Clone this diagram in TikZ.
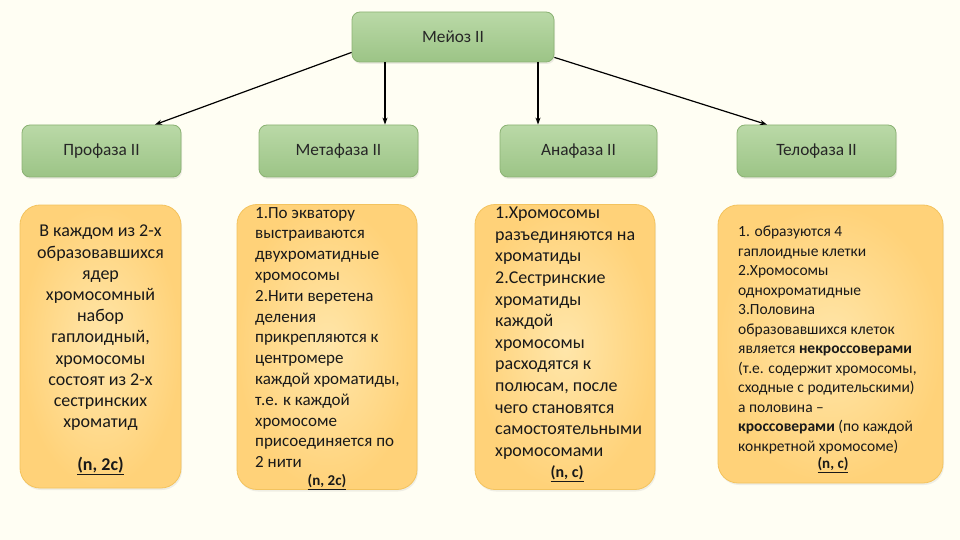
\documentclass[tikz,border=0pt]{standalone}
\usepackage{fontspec}
\setmainfont{Carlito}
\usetikzlibrary{arrows.meta,shadows}
\definecolor{bgc}{HTML}{FFFEF3}
\definecolor{gtop}{HTML}{BAD9A7}
\definecolor{gbot}{HTML}{9CC486}
\definecolor{gline}{HTML}{8BB273}
\definecolor{otop}{HTML}{FFE6AA}
\definecolor{obot}{HTML}{FFD279}
\definecolor{oline}{HTML}{F3C35E}
\tikzset{
  greenbox/.style={draw=gline, line width=0.8pt, rounded corners=8pt, top color=gtop, bottom color=gbot, font=\fontsize{17.3}{19}\selectfont, text=black!85, drop shadow={opacity=0.15, shadow xshift=1pt, shadow yshift=-2pt}},
  orangebox/.style={draw=oline, line width=0.8pt, rounded corners=20pt, inner color=otop, outer color=obot, drop shadow={opacity=0.12, shadow xshift=1pt, shadow yshift=-2pt}},
  bodytext/.style={inner sep=0pt, text=black!90},
  link/.style={-{Stealth[length=7pt,width=5pt]}, line width=1.2pt, black},
}
\begin{document}
\begin{tikzpicture}[x=1pt,y=-1pt]
\fill[bgc] (0,0) rectangle (960,540);
\useasboundingbox (0,0) rectangle (960,540);

\node[greenbox, minimum width=202pt, minimum height=50pt] (meioz) at (453,37) {Мейоз II};
\node[greenbox, minimum width=159pt, minimum height=52pt] (pro) at (101.5,151) {Профаза II};
\node[greenbox, minimum width=159pt, minimum height=52pt] (meta) at (338.5,151) {Метафаза II};
\node[greenbox, minimum width=157pt, minimum height=52pt] (ana) at (578.5,151) {Анафаза II};
\node[greenbox, minimum width=159pt, minimum height=52pt] (telo) at (816.5,151) {Телофаза II};

\node[orangebox, minimum width=161pt, minimum height=283pt] (probox) at (100.5,346.5) {};
\node[orangebox, minimum width=180pt, minimum height=285pt] (metabox) at (327,347) {};
\node[orangebox, minimum width=180pt, minimum height=285pt] (anabox) at (565,347) {};
\node[orangebox, minimum width=225pt, minimum height=278pt] (telobox) at (830.5,344) {};

\draw[link] ([yshift=10pt]meioz.south west) -- ([xshift=53.5pt]pro.north);
\draw[link] ([xshift=-68pt]meioz.south) -- ([xshift=-68pt]meioz.south |- meta.north);
\draw[link] ([xshift=85pt]meioz.south) -- ([xshift=85pt]meioz.south |- ana.north);
\draw[link] ([yshift=5pt]meioz.south east) -- ([xshift=-49.5pt]telo.north);

\node[bodytext, anchor=north, align=center, font=\fontsize{18}{21.2}\selectfont] (protext) at (100.5,225) {В каждом из 2-х\\образовавшихся\\ядер\\хромосомный\\набор\\гаплоидный,\\хромосомы\\состоят из 2-х\\сестринских\\хроматид\\[21.2pt]\underline{\textbf{(n, 2c)}}};

\node[bodytext, anchor=north west, align=left, font=\fontsize{17}{20.8}\selectfont] (metatext) at (255,207) {1.По экватору\\выстраиваются\\двухроматидные\\хромосомы\\2.Нити веретена\\деления\\прикрепляются к\\центромере\\каждой хроматиды,\\т.е. к каждой\\хромосоме\\присоединяется по\\2 нити};
\node[bodytext, font=\fontsize{15}{17}\selectfont] (metanote) at (327,482) {\underline{\textbf{(n, 2c)}}};

\node[bodytext, anchor=north west, align=left, font=\fontsize{18}{21.6}\selectfont] (anatext) at (495,207) {1.Хромосомы\\разъединяются на\\хроматиды\\2.Сестринские\\хроматиды\\каждой\\хромосомы\\расходятся к\\полюсам, после\\чего становятся\\самостоятельными\\хромосомами};
\node[bodytext, font=\fontsize{16}{17}\selectfont] (ananote) at (567,474) {\underline{\textbf{(n, c)}}};

\node[bodytext, anchor=north west, align=left, font=\fontsize{15.5}{19.5}\selectfont] (telotext) at (738,226) {1. образуются 4\\гаплоидные клетки\\2.Хромосомы\\однохроматидные\\3.Половина\\образовавшихся клеток\\является \textbf{некроссоверами}\\(т.е. содержит хромосомы,\\сходные с родительскими)\\а половина –\\\textbf{кроссоверами} (по каждой\\конкретной хромосоме)};
\node[bodytext, font=\fontsize{15}{17}\selectfont] (telonote) at (833,465) {\underline{\textbf{(n, c)}}};
\end{tikzpicture}
\end{document}
